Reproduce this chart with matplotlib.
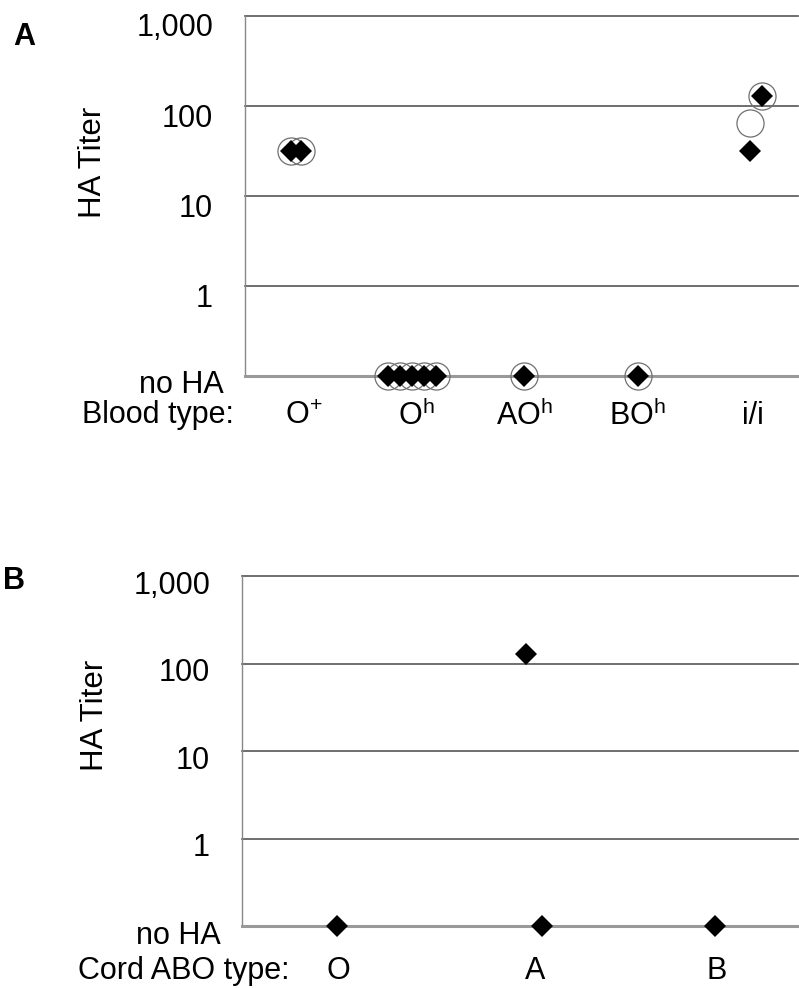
import matplotlib.pyplot as plt
from matplotlib.transforms import ScaledTranslation
import numpy as np

plt.rcParams['font.family'] = ['Liberation Sans', 'DejaVu Sans']
plt.rcParams['mathtext.fontset'] = 'custom'
plt.rcParams['mathtext.rm'] = 'Liberation Sans'

NO_HA = 0.1  # "no HA" is drawn one decade below 1

# panel A: blood types
cats_a = ["O$^{\\mathrm{+}}$", "O$^{\\mathrm{h}}$", "AO$^{\\mathrm{h}}$", "BO$^{\\mathrm{h}}$", "i/i"]
dia_a_group = [0, 0, 1, 1, 1, 1, 1, 2, 3, 4, 4]
dia_a_jit = [-0.08, 0.01, -0.21, -0.10, 0.01, 0.12, 0.23, 0.02, 0.05, 0.17, 0.07]
dia_a_titer = [32, 32, 0, 0, 0, 0, 0, 0, 0, 128, 32]
circ_a_group = [0, 0, 1, 1, 1, 1, 1, 2, 3, 4, 4]
circ_a_jit = [-0.08, 0.01, -0.21, -0.10, 0.01, 0.12, 0.23, 0.02, 0.05, 0.17, 0.07]
circ_a_titer = [32, 32, 0, 0, 0, 0, 0, 0, 0, 128, 64]

# panel B: cord ABO type
cats_b = ["O", "A", "B"]
dia_b_group = [0, 1, 1, 2]
dia_b_jit = [0.01, 0.03, 0.12, 0.05]
dia_b_titer = [0, 128, 0, 0]

ytick_vals = [NO_HA, 1, 10, 100, 1000]
ytick_text = ["no HA", "1", "10", "100", "1,000"]


def to_y(t):
    t = np.array(t, dtype=float)
    return np.where(t > 0, t, NO_HA)


def setup_axis(ax, ncat, dy_px, dy_noha):
    ax.set_yscale("log")
    ax.set_ylim(NO_HA, 1000)
    ax.set_xlim(0, ncat)
    ax.set_xticks([])
    ax.minorticks_off()
    for v in [1, 10, 100, 1000]:
        ax.axhline(v, color="#555555", lw=1.2, clip_on=False, zorder=1)
    ax.spines["top"].set_visible(False)
    ax.spines["right"].set_visible(False)
    ax.spines["left"].set_color("#888888")
    ax.spines["left"].set_linewidth(1)
    ax.spines["bottom"].set_color("#999999")
    ax.spines["bottom"].set_linewidth(2.2)
    ax.set_yticks(ytick_vals)
    ax.set_yticklabels(ytick_text, fontsize=22)
    ax.tick_params(axis="y", length=0, pad=23)
    for lab in ax.get_yticklabels():
        if lab.get_text() == "no HA":
            dx, dy = 11, dy_noha
        else:
            dx, dy = 0, dy_px
        lab.set_transform(lab.get_transform() + ScaledTranslation(dx / 100, -dy / 100, fig.dpi_scale_trans))
    ax.set_ylabel("HA Titer", fontsize=22.5)


fig = plt.figure(figsize=(7.99, 9.88), dpi=100)

# ---- panel A
ax1 = fig.add_axes([245 / 799, 1 - 376 / 988, 553 / 799, 360 / 988])
setup_axis(ax1, len(cats_a), 9, 5)
ax1.yaxis.set_label_coords(-0.248, 0.594)
x_c = np.array(circ_a_group) + 0.5 + np.array(circ_a_jit)
ax1.plot(x_c, to_y(circ_a_titer), "o", ms=19.5, mfc="none", mec="#707070", mew=0.9, ls="none", zorder=3, clip_on=False)
x_d = np.array(dia_a_group) + 0.5 + np.array(dia_a_jit)
ax1.plot(x_d, to_y(dia_a_titer), "D", ms=11, color="black", mec="black", mew=0, ls="none", zorder=4, clip_on=False)
lab_x_a = [0.53, 1.55, 2.53, 3.55, 4.59]
for x, c in zip(lab_x_a, cats_a):
    ax1.text(x, -0.11, c, transform=ax1.get_xaxis_transform(), ha="center", va="center", fontsize=22)
fig.text(82 / 799, 1 - 415 / 988, "Blood type:", ha="left", va="center", fontsize=22)
fig.text(13 / 799, 1 - 37 / 988, "A", ha="left", va="center", fontsize=22, fontweight="bold")

# ---- panel B
ax2 = fig.add_axes([242 / 799, 1 - 926 / 988, 556 / 799, 350 / 988])
setup_axis(ax2, len(cats_b), 6, 6)
ax2.yaxis.set_label_coords(-0.237, 0.603)
x_d = np.array(dia_b_group) + 0.5 + np.array(dia_b_jit)
ax2.plot(x_d, to_y(dia_b_titer), "D", ms=11, color="black", mew=0, ls="none", zorder=4, clip_on=False)
lab_x_b = [0.52, 1.58, 2.56]
for x, c in zip(lab_x_b, cats_b):
    ax2.text(x, -0.128, c, transform=ax2.get_xaxis_transform(), ha="center", va="center", fontsize=22)
fig.text(78 / 799, 1 - 971 / 988, "Cord ABO type:", ha="left", va="center", fontsize=22)
fig.text(3 / 799, 1 - 581 / 988, "B", ha="left", va="center", fontsize=22, fontweight="bold")

fig.savefig("out.png", dpi=100)
